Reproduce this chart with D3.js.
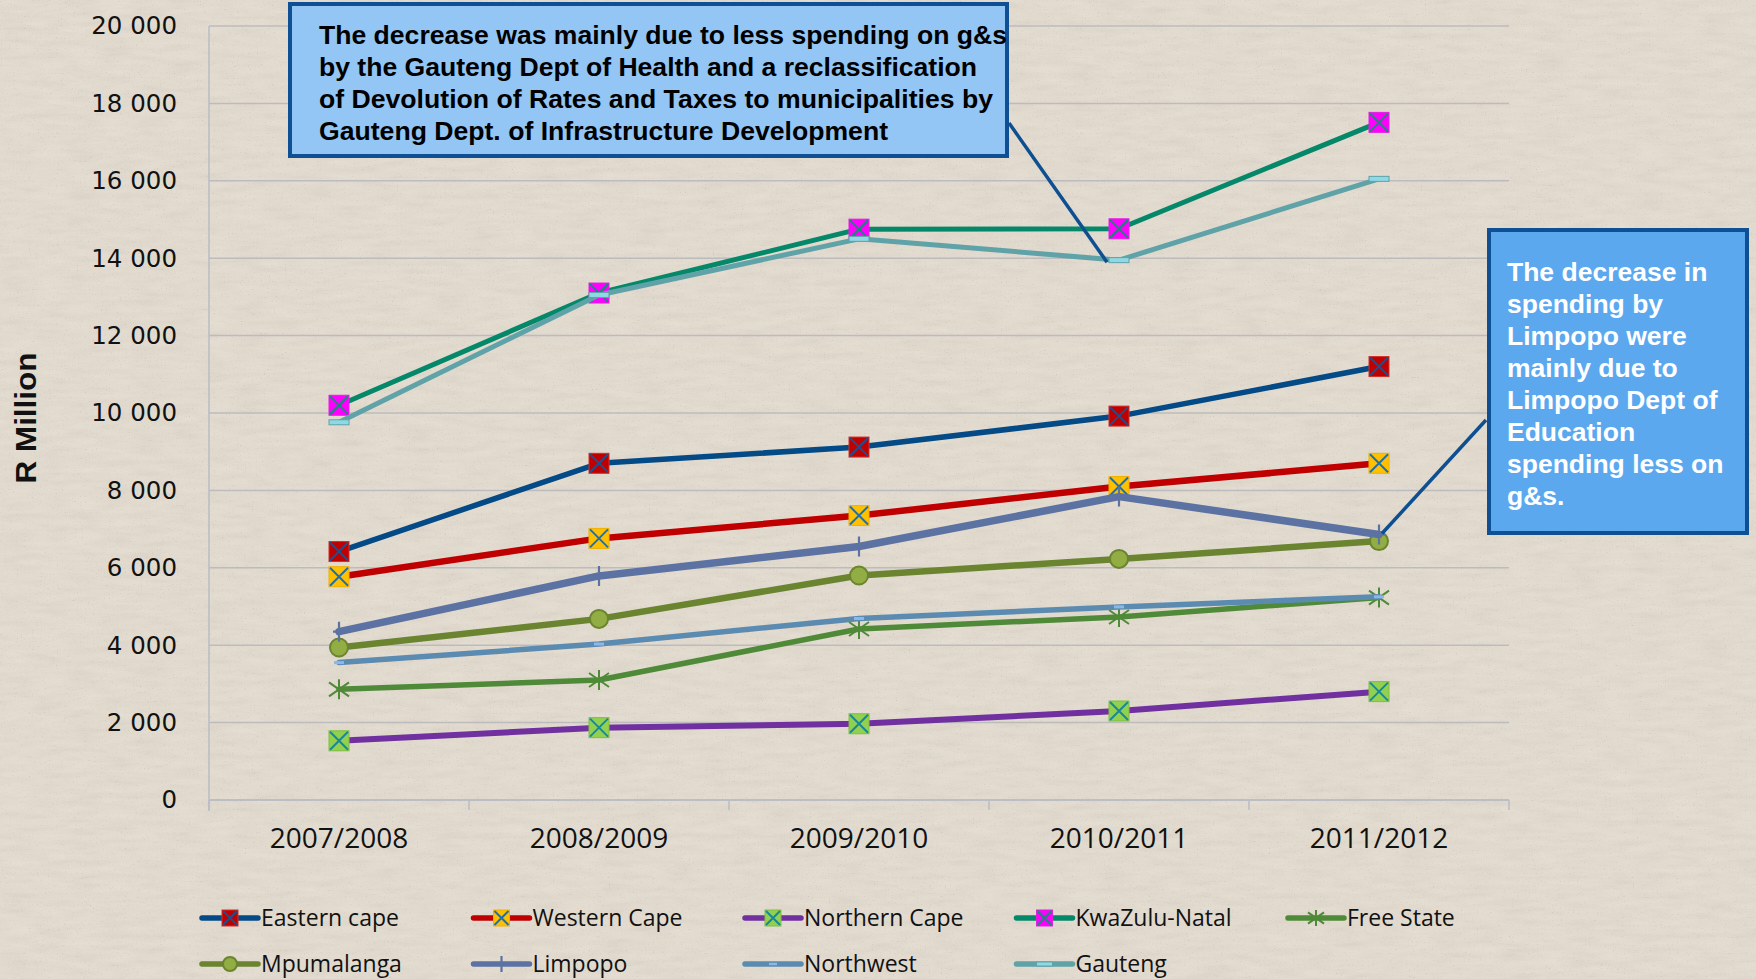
<!DOCTYPE html>
<html lang="en">
<head>
    <meta charset="UTF-8">
    <title>Provincial spending on goods and services</title>
    <script src="https://d3js.org/d3.v7.min.js"></script>
    <style>
        body { margin: 0; background: #e4dccf; }
        svg { display: block; }
    </style>
</head>
<body>
<div id="container"></div>
<script>
// categories and values (R million)
const categories = ['2007/2008', '2008/2009', '2009/2010', '2010/2011', '2011/2012'];
const seriesNames = ['Eastern cape', 'Western Cape', 'Northern Cape', 'KwaZulu-Natal', 'Free State',
                     'Mpumalanga', 'Limpopo', 'Northwest', 'Gauteng'];
const easternCape  = [6420, 8700, 9120, 9920, 11200];
const westernCape  = [5770, 6760, 7350, 8100, 8700];
const northernCape = [1530, 1870, 1970, 2300, 2800];
const kwaZuluNatal = [10200, 13100, 14750, 14760, 17510];
const freeState    = [2860, 3100, 4420, 4730, 5230];
const mpumalanga   = [3940, 4680, 5800, 6230, 6690];
const limpopo      = [4350, 5790, 6550, 7840, 6860];
const northwest    = [3550, 4030, 4690, 4990, 5250];
const gauteng      = [9760, 13050, 14500, 13950, 16050];
const yTicks = [0, 2000, 4000, 6000, 8000, 10000, 12000, 14000, 16000, 18000, 20000];

const note1 = ['The decrease was mainly due to less spending on g&s',
               'by the Gauteng Dept of Health and a reclassification',
               'of Devolution of Rates and Taxes to municipalities by',
               'Gauteng Dept. of Infrastructure Development'];
const note2 = ['The decrease in', 'spending by', 'Limpopo were', 'mainly due to',
               'Limpopo Dept of', 'Education', 'spending less on', 'g&s.'];

const allValues = [easternCape, westernCape, northernCape, kwaZuluNatal, freeState,
                   mpumalanga, limpopo, northwest, gauteng];

// look of each series
const styles = {
    'Eastern cape':  {line: '#034a86', w: 5.5, marker: 'squareX', fill: '#c00000', edge: '#d0302a', x: '#1f4e8c'},
    'Western Cape':  {line: '#c00000', w: 6.5, marker: 'squareX', fill: '#ffc000', edge: '#f0b000', x: '#1f6fae'},
    'Northern Cape': {line: '#7030a0', w: 6,   marker: 'squareX', fill: '#92d050', edge: '#7cc040', x: '#17879a'},
    'KwaZulu-Natal': {line: '#05886a', w: 5,   marker: 'squareX', fill: '#ff00ff', edge: '#e020e0', x: '#16887a'},
    'Free State':    {line: '#4f8a38', w: 5.5, marker: 'star',    x: '#4f8a38'},
    'Mpumalanga':    {line: '#6a842f', w: 6.5, marker: 'circle',  fill: '#93ad45', edge: '#6a842f'},
    'Limpopo':       {line: '#5b72a2', w: 7.5, marker: 'plus',    x: '#5b72a2'},
    'Northwest':     {line: '#5b8bb0', w: 5.5, marker: 'dash',    fill: '#8ab8ea', dw: 10, dh: 3},
    'Gauteng':       {line: '#5fa3a8', w: 5,   marker: 'dash',    fill: '#8fd8e6', edge: '#5fa3a8', dw: 20, dh: 5}
};

const series = seriesNames.map((name, i) => ({
    name: name,
    style: styles[name],
    values: allValues[i].map((v, j) => ({cat: categories[j], v: v}))
}));

const width = 1756, height = 979;
const plotLeft = 209, plotRight = 1509, plotTop = 26, plotBottom = 800;

const svg = d3.select('#container').append('svg')
    .attr('width', width)
    .attr('height', height);

// paper texture: faint mottling plus small dark specks
const defs = svg.append('defs');
const mottle = defs.append('filter').attr('id', 'mottle').attr('x', 0).attr('y', 0)
    .attr('width', '100%').attr('height', '100%');
mottle.append('feTurbulence').attr('type', 'fractalNoise').attr('baseFrequency', '0.03 0.15')
    .attr('numOctaves', 3).attr('seed', 4);
mottle.append('feColorMatrix').attr('type', 'matrix')
    .attr('values', '1 0 0 0 0  1 0 0 0 0  1 0 0 0 0  0 0 0 0 0.07');

const speck = defs.append('filter').attr('id', 'speck').attr('x', 0).attr('y', 0)
    .attr('width', '100%').attr('height', '100%');
speck.append('feTurbulence').attr('type', 'fractalNoise').attr('baseFrequency', 0.75)
    .attr('numOctaves', 3).attr('seed', 11);
speck.append('feColorMatrix').attr('type', 'matrix')
    .attr('values', '0 0 0 0 0.45  0 0 0 0 0.42  0 0 0 0 0.37  1 0 0 0 0');
const specA = speck.append('feComponentTransfer');
specA.append('feFuncA').attr('type', 'table')
    .attr('tableValues', '0 0 0 0 0 0 0.08 0.45 0.9 1');

svg.append('rect').attr('width', width).attr('height', height).attr('fill', '#e4dccf');
svg.append('rect').attr('width', width).attr('height', height)
    .attr('filter', 'url(#mottle)');
svg.append('rect').attr('width', width).attr('height', height)
    .attr('filter', 'url(#speck)').attr('opacity', 0.45);

const x = d3.scaleBand().domain(categories).range([plotLeft, plotRight]);
const cx = c => x(c) + x.bandwidth() / 2;
const y = d3.scaleLinear().domain([0, 20000]).range([plotBottom, plotTop]);

// grid lines
svg.append('g')
    .selectAll('line')
    .data(yTicks)
    .enter()
    .append('line')
    .attr('x1', plotLeft).attr('x2', plotRight)
    .attr('y1', d => y(d)).attr('y2', d => y(d))
    .attr('stroke', '#bcbcbf')
    .attr('stroke-width', 1.5);

// y axis
const yAxis = svg.append('g')
    .attr('transform', `translate(${plotLeft},0)`)
    .call(d3.axisLeft(y).tickValues(yTicks).tickSize(0).tickPadding(32)
        .tickFormat(d => d3.format(',')(d).replace(/,/g, ' ')));
yAxis.select('.domain').attr('stroke', '#b8bcc6').attr('stroke-width', 1.5)
    .attr('d', `M0,${plotTop}V${plotBottom + 11}`);
yAxis.selectAll('text')
    .attr('font-family', 'DejaVu Sans')
    .attr('font-size', 24.5)
    .attr('fill', '#111');

// x axis
const xAxis = svg.append('g')
    .attr('transform', `translate(0,${plotBottom})`)
    .call(d3.axisBottom(x).tickSize(0).tickPadding(28));
xAxis.select('.domain').attr('stroke', '#b8bcc6').attr('stroke-width', 1.5)
    .attr('d', `M${plotLeft},0H${plotRight}`);
xAxis.selectAll('text')
    .attr('font-family', 'Open Sans')
    .attr('font-size', 28)
    .attr('fill', '#111');
xAxis.selectAll('.edge')
    .data(categories.map(c => x(c)).concat([plotRight]))
    .enter()
    .append('line')
    .attr('class', 'edge')
    .attr('x1', d => d).attr('x2', d => d)
    .attr('y1', 0).attr('y2', 10)
    .attr('stroke', '#b8bcc6').attr('stroke-width', 1.5);

// y title
svg.append('text')
    .attr('transform', 'translate(36,418) rotate(-90)')
    .attr('text-anchor', 'middle')
    .attr('font-family', 'Liberation Sans')
    .attr('font-weight', 'bold')
    .attr('font-size', 30)
    .attr('textLength', 131)
    .attr('lengthAdjust', 'spacingAndGlyphs')
    .attr('fill', '#111')
    .text('R Million');

function drawMarker(g, st, size) {
    const h = size / 2;
    if (st.marker === 'squareX') {
        g.append('rect').attr('x', -h).attr('y', -h).attr('width', size).attr('height', size)
            .attr('fill', st.fill).attr('stroke', st.edge).attr('stroke-width', 1);
        g.append('path').attr('d', `M${-h + 1},${-h + 1}L${h - 1},${h - 1}M${h - 1},${-h + 1}L${-h + 1},${h - 1}`)
            .attr('stroke', st.x).attr('stroke-width', 2).attr('fill', 'none');
    } else if (st.marker === 'circle') {
        g.append('circle').attr('r', h - 1).attr('fill', st.fill)
            .attr('stroke', st.edge).attr('stroke-width', 2);
    } else if (st.marker === 'star') {
        g.append('path').attr('d', `M0,${-h}V${h}M${-h},${-h * 0.7}L${h},${h * 0.7}M${h},${-h * 0.7}L${-h},${h * 0.7}`)
            .attr('stroke', st.x).attr('stroke-width', 2).attr('fill', 'none');
    } else if (st.marker === 'plus') {
        g.append('path').attr('d', `M0,${-h}V${h}M${-h * 0.6},0H${h * 0.6}`)
            .attr('stroke', st.x).attr('stroke-width', 2.2).attr('fill', 'none');
    } else if (st.marker === 'dash') {
        const k = size / 20;
        g.append('rect').attr('x', -st.dw * k / 2).attr('y', -st.dh * k / 2)
            .attr('width', st.dw * k).attr('height', st.dh * k)
            .attr('fill', st.fill)
            .attr('stroke', st.edge || 'none').attr('stroke-width', 1);
    }
}

// series lines and markers
const line = d3.line().x(d => cx(d.cat)).y(d => y(d.v));
const seriesG = svg.selectAll('.series')
    .data(series)
    .enter()
    .append('g')
    .attr('class', 'series');

seriesG.append('path')
    .attr('d', d => line(d.values))
    .attr('fill', 'none')
    .attr('stroke', d => d.style.line)
    .attr('stroke-width', d => d.style.w)
    .attr('stroke-linejoin', 'round')
    .attr('stroke-linecap', 'round');

seriesG.each(function(s) {
    d3.select(this).selectAll('.pt')
        .data(s.values)
        .enter()
        .append('g')
        .attr('class', 'pt')
        .attr('transform', d => `translate(${cx(d.cat)},${y(d.v)})`)
        .each(function() { drawMarker(d3.select(this), s.style, 20); });
});

// legend
const legend = svg.append('g');
const legItems = legend.selectAll('g')
    .data(series)
    .enter()
    .append('g')
    .attr('transform', (d, i) => `translate(${202 + (i % 5) * 271.5},${i < 5 ? 918 : 964})`);
legItems.append('line')
    .attr('x1', 0).attr('x2', 56)
    .attr('stroke', d => d.style.line)
    .attr('stroke-width', 5.5)
    .attr('stroke-linecap', 'round');
legItems.append('g')
    .attr('transform', 'translate(28,0)')
    .each(function(d) { drawMarker(d3.select(this), d.style, 16); });
legItems.append('text')
    .attr('x', 59)
    .attr('dy', '0.36em')
    .attr('font-family', 'Open Sans')
    .attr('font-size', 23)
    .attr('fill', '#111')
    .text(d => d.name);

// callouts
const gautengSeries = series.find(s => s.name === 'Gauteng');
const limpopoSeries = series.find(s => s.name === 'Limpopo');
const gPt = gautengSeries.values[3];
const lPt = limpopoSeries.values[4];

svg.append('line')
    .attr('x1', 1009).attr('y1', 123)
    .attr('x2', cx(gPt.cat) - 12).attr('y2', y(gPt.v) + 2)
    .attr('stroke', '#0d4f91').attr('stroke-width', 3.5);
svg.append('line')
    .attr('x1', 1486).attr('y1', 420)
    .attr('x2', cx(lPt.cat) + 3).attr('y2', y(lPt.v) - 1)
    .attr('stroke', '#0d4f91').attr('stroke-width', 3.5);

svg.append('rect')
    .attr('x', 290).attr('y', 4).attr('width', 717).attr('height', 152)
    .attr('fill', '#93c6f4').attr('stroke', '#0f4f94').attr('stroke-width', 4);
const note1Widths = [688, 658, 674, 569];
svg.append('g').selectAll('text')
    .data(note1)
    .enter()
    .append('text')
    .attr('x', 319)
    .attr('y', (d, i) => 43.5 + i * 32)
    .attr('textLength', (d, i) => note1Widths[i])
    .attr('lengthAdjust', 'spacingAndGlyphs')
    .attr('font-family', 'Liberation Sans')
    .attr('font-weight', 'bold')
    .attr('font-size', 25)
    .attr('fill', '#000')
    .text(d => d);

svg.append('rect')
    .attr('x', 1489).attr('y', 230).attr('width', 258).attr('height', 303)
    .attr('fill', '#5ba8ef').attr('stroke', '#0f4f94').attr('stroke-width', 4);
svg.append('g').selectAll('text')
    .data(note2)
    .enter()
    .append('text')
    .attr('x', 1507)
    .attr('y', (d, i) => 281 + i * 32)
    .attr('font-family', 'Liberation Sans')
    .attr('font-weight', 'bold')
    .attr('font-size', 26.5)
    .attr('fill', '#fff')
    .text(d => d);
</script>
</body>
</html>
